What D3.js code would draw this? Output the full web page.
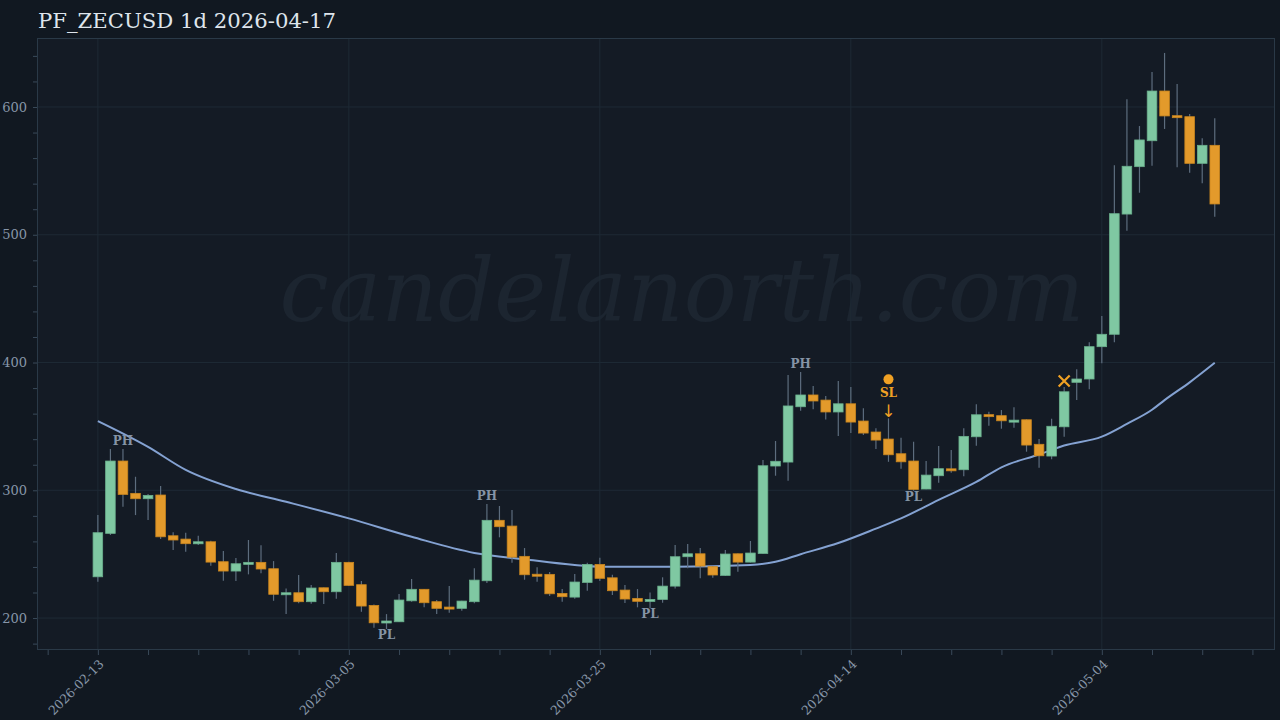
<!DOCTYPE html>
<html><head><meta charset="utf-8">
<script src="https://cdn.jsdelivr.net/npm/d3@7"></script>
<style>
html,body{margin:0;padding:0;background:#111821;}
svg{display:block;}
</style></head>
<body>
<svg id="chart" width="1280" height="720"></svg>
<script>
const title = "PF_ZECUSD 1d 2026-04-17";
const startDate = "2026-02-13";
const opens  = [232.3,266.3,322.9,297.6,293.4,296.3,264.4,261.8,258.2,259.7,244.1,236.8,242.3,243.6,238.6,218.6,219.8,212.8,223.7,220.6,243.6,226.1,209.9,196.3,197.1,213.5,222.5,212.8,208.6,207.6,212.8,229.2,276.5,272.0,248.3,234.3,234.2,219.3,216.4,227.9,242.0,231.5,221.9,215.4,213.3,214.6,225.0,248.0,250.3,240.2,233.4,250.3,243.8,250.6,319.0,322.1,365.4,374.6,370.6,361.3,367.7,354.2,345.6,340.1,328.6,322.9,301.0,311.4,316.8,316.1,341.9,359.2,358.4,354.5,355.2,336.0,326.8,349.7,384.5,387.1,412.4,422.1,516.2,553.3,573.6,612.5,593.2,592.4,555.9,570.0];
const highs  = [280.6,332.3,332.3,310.6,297.1,303.3,267.1,266.8,264.4,260.5,252.4,247.0,261.1,256.9,244.6,223.2,233.7,225.8,224.0,250.9,244.0,229.0,210.7,203.1,218.8,230.5,222.7,214.1,225.0,213.5,238.9,289.2,287.7,284.5,254.8,239.7,236.0,222.7,234.4,243.3,247.2,233.9,225.8,222.7,220.1,231.9,257.1,257.9,254.8,240.5,253.2,250.5,260.3,323.7,338.6,390.2,392.6,381.6,373.8,385.5,380.8,364.2,348.5,356.3,341.1,338.0,322.9,334.6,331.5,348.5,367.3,361.5,362.8,364.9,355.5,340.1,356.0,380.8,394.7,415.8,436.4,554.4,606.0,585.1,627.4,642.3,618.0,594.5,575.5,591.2];
const lows   = [228.4,265.0,287.1,280.6,276.7,261.8,253.2,251.9,257.1,240.9,229.2,229.0,234.2,235.0,213.5,203.1,211.5,211.2,211.0,215.1,225.0,204.9,192.4,191.4,197.0,212.8,208.4,203.1,204.1,205.7,211.5,227.4,263.2,243.3,230.0,228.4,217.2,212.8,215.1,221.4,229.0,218.0,211.7,208.4,207.6,212.0,223.2,238.9,231.1,231.5,232.9,236.2,243.5,250.3,311.4,307.5,362.3,363.4,355.5,342.5,344.8,343.2,332.3,322.3,316.9,299.6,300.8,305.9,313.7,310.9,334.9,350.5,348.2,349.0,330.2,317.7,324.2,341.9,370.6,379.0,399.4,415.8,503.2,532.9,554.1,582.8,552.8,548.6,540.3,514.1];
const closes = [266.8,322.9,296.8,293.4,296.0,263.6,261.1,258.2,259.7,243.8,236.8,242.5,243.6,238.4,218.6,219.8,212.8,223.5,220.6,243.6,225.6,209.4,196.3,197.7,214.1,222.5,212.0,207.6,207.3,213.3,229.7,276.5,271.5,247.7,233.9,234.0,219.0,216.7,228.2,242.0,231.1,221.4,214.9,213.1,214.6,225.0,248.0,250.3,240.7,233.7,250.1,243.8,250.9,319.2,322.7,366.0,374.6,369.9,361.3,367.7,353.4,344.8,339.3,327.8,322.3,300.7,311.9,316.9,316.3,342.2,359.1,358.6,354.4,354.9,335.4,327.0,350.1,377.1,387.1,412.4,422.1,516.5,553.6,574.2,612.5,593.0,592.5,555.9,570.0,524.1];
// moving average at selected candles
const maIndex = [0,4,7,11,15,20,25,30,34,38,40,46,52,54,56,59,62,64,67,70,72,75,77,80,82,84,85,87,89];
const maValue = [354.2,334,316,301,291,278,263.6,251,246,241.5,240.2,240.2,241.5,244,250,258.7,270,278,292.5,306.5,318,328,335,342,352,363,370.6,384.5,399.8];
const pivotHighs = [2,31,56];
const pivotLows = [23,44,65];
const stopIndex = 63;
const entryIndex = 77;
const yMajorTicks = [200,300,400,500,600];
const watermark = "candelanorth.com";

const W=1280,H=720;
const L=37,R=1275,T=38,B=650;
const svg=d3.select("#chart");
const parse=d3.utcParse("%Y-%m-%d");
const d0=parse(startDate);
const day=86400000;
const data=opens.map((o,i)=>({date:new Date(+d0+i*day),o,h:highs[i],l:lows[i],c:closes[i]}));

const x=d3.scaleUtc().domain([new Date(+d0-4.85*day),new Date(+d0+93.8*day)]).range([L,R]);
const y=d3.scaleLinear().domain([175,654]).range([B,T]);
const fmt=d3.utcFormat("%Y-%m-%d");

svg.append("rect").attr("width",W).attr("height",H).attr("fill","#111821");
svg.append("rect").attr("x",L).attr("y",T).attr("width",R-L).attr("height",B-T).attr("fill","#141b25");

// watermark
svg.append("text").attr("x",682).attr("y",321).attr("text-anchor","middle")
 .attr("font-family","DejaVu Serif").attr("font-style","italic").attr("font-size",88)
 .attr("fill","#1c2530").text(watermark);

// grid
const majorDates=d3.range(-20,100,20).map(k=>new Date(+d0+k*day)).filter(d=>x(d)>=L&&x(d)<=R);
const minorDates=d3.range(-4,96,4).map(k=>new Date(+d0+k*day)).filter(d=>x(d)>=L&&x(d)<=R);
const grid=svg.append("g");
grid.selectAll(".gy").data(yMajorTicks).join("line").attr("x1",L).attr("x2",R)
 .attr("y1",d=>y(d)).attr("y2",d=>y(d)).attr("stroke","#1e2a35").attr("stroke-width",1);
grid.selectAll(".gx").data(majorDates).join("line").attr("y1",T).attr("y2",B)
 .attr("x1",d=>x(d)).attr("x2",d=>x(d)).attr("stroke","#1e2a35").attr("stroke-width",1);

// axes
const yAxis=d3.axisLeft(y).tickValues(d3.range(180,660,20)).tickSize(4)
 .tickFormat(d=>yMajorTicks.includes(d)?d:"");
const gy=svg.append("g").attr("transform",`translate(${L},0)`).call(yAxis);
gy.select(".domain").remove();
gy.selectAll("line").attr("stroke","#3a4a5a");
gy.selectAll("text").attr("font-family","DejaVu Serif").attr("font-size",13).attr("fill","#8796a8").attr("x",-10);

const xAxis=d3.axisBottom(x).tickValues(minorDates).tickSize(5)
 .tickFormat(d=>majorDates.some(m=>+m===+d)&&+d>=+d0?fmt(d):"");
const gx=svg.append("g").attr("transform",`translate(0,${B})`).call(xAxis);
gx.select(".domain").remove();
gx.selectAll("line").attr("stroke","#3a4a5a");
gx.selectAll("text").attr("font-family","DejaVu Serif").attr("font-size",12.5).attr("fill","#8796a8")
 .attr("text-anchor","end").attr("transform","translate(-2,3) rotate(-45)").attr("dy","0.5em").attr("dx","-0.2em");

// frame
svg.append("rect").attr("x",L+0.5).attr("y",T+0.5).attr("width",R-L-1).attr("height",B-T-1)
 .attr("fill","none").attr("stroke","#2a3947");

// MA line
const maPts=maIndex.map((k,j)=>({date:data[k].date,v:maValue[j]}));
svg.append("path").datum(maPts).attr("fill","none").attr("stroke","#84a2d2").attr("stroke-width",2)
 .attr("d",d3.line().x(d=>x(d.date)).y(d=>y(d.v)).curve(d3.curveMonotoneX));

// candles
const bw=9.6;
const cg=svg.append("g");
cg.selectAll(".wick").data(data).join("line")
 .attr("x1",d=>x(d.date)).attr("x2",d=>x(d.date)).attr("y1",d=>y(d.h)).attr("y2",d=>y(d.l))
 .attr("stroke","#5d6d7e").attr("stroke-width",1.2);
cg.selectAll(".body").data(data).join("rect")
 .attr("x",d=>x(d.date)-bw/2).attr("width",bw)
 .attr("y",d=>Math.min(y(d.o),y(d.c)))
 .attr("height",d=>Math.max(2,Math.abs(y(d.o)-y(d.c))))
 .attr("fill",d=>d.c>=d.o?"#7fc8a2":"#e39a2b")
 .attr("stroke",d=>d.c>=d.o?"#6bb08d":"#c9861f").attr("stroke-width",0.8);

// pivots
const lab=svg.append("g").attr("font-family","DejaVu Serif").attr("font-weight","bold")
 .attr("font-size",12).attr("fill","#8594a6").attr("text-anchor","middle");
pivotHighs.forEach(k=>lab.append("text").attr("x",x(data[k].date)).attr("y",y(data[k].h)-4).text("PH"));
pivotLows.forEach(k=>lab.append("text").attr("x",x(data[k].date)).attr("y",y(data[k].l)+10).text("PL"));

// stop marker
const orange="#f0a124";
const sx=x(data[stopIndex].date), sy=y(data[stopIndex].h);
svg.append("circle").attr("cx",sx).attr("cy",sy-39).attr("r",5).attr("fill",orange);
svg.append("text").attr("x",sx).attr("y",sy-21).attr("text-anchor","middle").attr("font-family","DejaVu Serif")
 .attr("font-weight","bold").attr("font-size",12).attr("fill",orange).text("SL");
svg.append("text").attr("x",sx).attr("y",sy-1).attr("text-anchor","middle").attr("font-family","DejaVu Sans")
 .attr("font-size",17).attr("fill",orange).text("↓");

// entry cross
const ex=x(data[entryIndex].date), ey=y(data[entryIndex].h)-6;
svg.append("path").attr("d",`M${ex-5.5},${ey-5.5}L${ex+5.5},${ey+5.5}M${ex-5.5},${ey+5.5}L${ex+5.5},${ey-5.5}`)
 .attr("stroke",orange).attr("stroke-width",2.2);

// title
svg.append("text").attr("x",38).attr("y",28).attr("font-family","DejaVu Serif").attr("font-size",21.2)
 .attr("fill","#dfe5ec").text(title);
</script>
</body></html>
